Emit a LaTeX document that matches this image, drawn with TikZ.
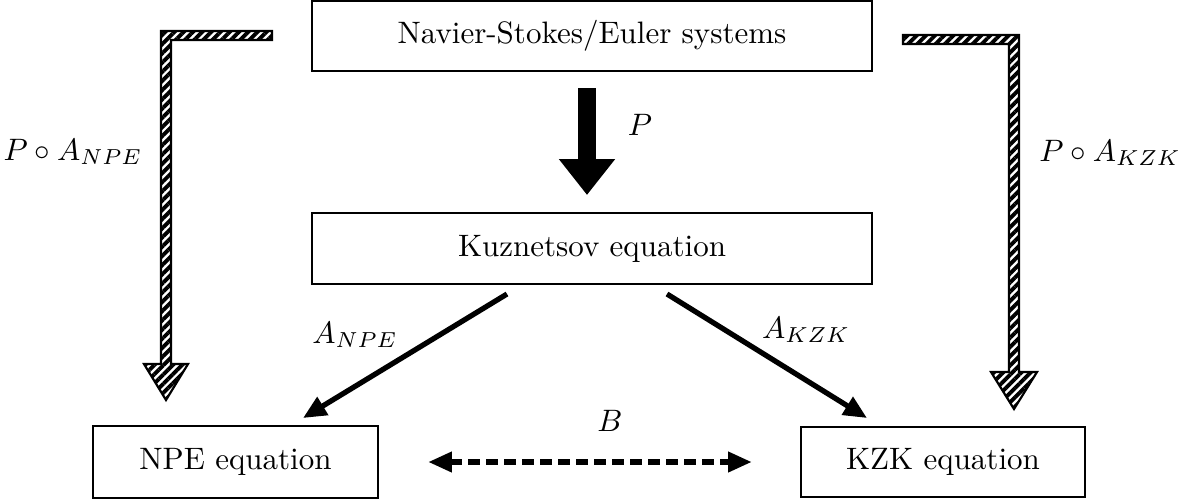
\documentclass[tikz,border=0pt]{standalone}
\usetikzlibrary{arrows.meta,patterns.meta}
\begin{document}
\begin{tikzpicture}[x=0.3226pt,y=-0.3226pt,
  box/.style={draw,line width=0.5pt,inner sep=0pt},
  hatch/.style={draw,line width=0.7pt,pattern={Lines[angle=45,distance=2.1pt,line width=1.25pt]}},
  solidarrow/.style={line width=1.7pt,-{Triangle[width=6.5pt,length=7.5pt]}},
  bigarrow/.style={line width=5.8pt,-{Triangle[width=17.4pt,length=11.6pt]}},
  dasharrow/.style={line width=2.2pt,dash pattern=on 3.8pt off 2pt,{Triangle[width=6.2pt,length=7.7pt]}-{Triangle[width=6.2pt,length=7.7pt]}},
  lab/.style={inner sep=0pt}]
\useasboundingbox (0,0) rectangle (1204,501);
\node[box,minimum width=180.7pt,minimum height=22.6pt] (ns) at (592,36) {Navier-Stokes/Euler systems};
\node[box,minimum width=180.7pt,minimum height=22.9pt] (kz) at (592,248.5) {Kuznetsov equation};
\node[box,minimum width=91.9pt,minimum height=23.2pt] (npe) at (235.5,462) {NPE equation};
\node[box,minimum width=91.6pt,minimum height=22.6pt] (kzk) at (943,462) {KZK equation};
% big arrow P
\coordinate (p1) at (587,88);
\coordinate (p2) at (587,195);
\draw[bigarrow] (p1) -- (p2);
\node[lab] (lp) at (640,125) {$P$};
% diagonal arrows
\coordinate (a1) at (507,294);
\coordinate (a2) at (303,418);
\draw[solidarrow] (a1) -- (a2);
\node[lab] (lanpe) at (355,335) {$A_{NPE}$};
\coordinate (b1) at (667,294);
\coordinate (b2) at (867,418);
\draw[solidarrow] (b1) -- (b2);
\node[lab] (lakzk) at (806,330) {$A_{KZK}$};
% dashed double arrow
\coordinate (d1) at (428,462);
\coordinate (d2) at (752,462);
\draw[dasharrow] (d1) -- (d2);
\node[lab] (lb) at (610,421) {$B$};
% hatched arrows
\draw[hatch] (272,31) -- (161,31) -- (161,364) -- (144,364) -- (166,400) -- (188,364) -- (171,364) -- (171,40) -- (272,40) -- cycle;
\draw[hatch] (903,35) -- (1019,35) -- (1019,372) -- (1037,372) -- (1014,409) -- (991,372) -- (1009,372) -- (1009,44) -- (903,44) -- cycle;
\node[lab] (lpnpe) at (73,152) {$P\circ A_{NPE}$};
\node[lab] (lpkzk) at (1110,153) {$P\circ A_{KZK}$};
\end{tikzpicture}
\end{document}
